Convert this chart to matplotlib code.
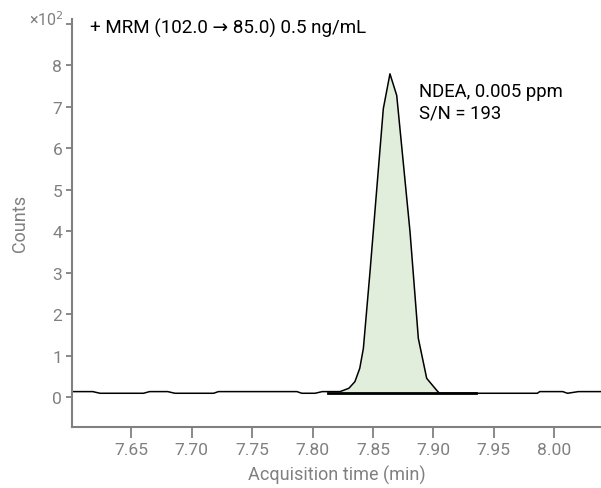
import matplotlib
matplotlib.use("Agg")
import matplotlib.pyplot as plt
import numpy as np

plt.rcParams['font.family'] = ['Roboto', 'DejaVu Sans']

# chromatogram trace (counts in units of 10^2)
time_min = [7.600, 7.618, 7.624, 7.660, 7.665, 7.680, 7.686, 7.718, 7.722, 7.787,
            7.791, 7.802, 7.808, 7.8227, 7.830, 7.835, 7.839, 7.842, 7.8475, 7.8585,
            7.864, 7.8696, 7.8806, 7.8875, 7.8944, 7.9027, 7.905, 7.986, 7.988, 8.007,
            8.011, 8.020, 8.039]
counts = [0.14, 0.14, 0.10, 0.10, 0.14, 0.14, 0.10, 0.10, 0.14, 0.14,
          0.10, 0.10, 0.14, 0.14, 0.22, 0.38, 0.70, 1.18, 3.03, 6.95,
          7.79, 7.27, 3.99, 1.42, 0.46, 0.17, 0.10, 0.10, 0.14, 0.14,
          0.10, 0.14, 0.14]

# integrated peak region and its baseline
peak_start, peak_end = 7.815, 7.905
baseline_x = [7.813, 7.935]
baseline_y = [0.11, 0.11]

x_ticks = [7.65, 7.70, 7.75, 7.80, 7.85, 7.90, 7.95, 8.00]
y_ticks = [0, 1, 2, 3, 4, 5, 6, 7, 8, 9]
y_labels = ['0', '1', '2', '3', '4', '5', '6', '7', '8', '']

grey = '#808080'

fig = plt.figure(figsize=(6.01, 4.89), dpi=100)
ax = fig.add_axes([72 / 601, 61.5 / 489, 529 / 601, 407.5 / 489])

t = np.array(time_min)
c = np.array(counts)
mask = (t >= peak_start) & (t <= peak_end)
ax.fill_between(t[mask], c[mask], 0.11, color='#e0eedb', lw=0)
ax.plot(time_min, counts, color='black', lw=1.1)
ax.plot(baseline_x, baseline_y, color='black', lw=2)

ax.set_xlim(7.6008, 8.0387)
ax.set_ylim(-0.70, 9.11)
ax.set_xticks(x_ticks)
ax.set_xticklabels([f'{v:.2f}' for v in x_ticks])
ax.set_yticks(y_ticks)
ax.set_yticklabels(y_labels)

for s in ['top', 'right']:
    ax.spines[s].set_visible(False)
for s in ['left', 'bottom']:
    ax.spines[s].set_color(grey)
    ax.spines[s].set_linewidth(1.5)
ax.tick_params(colors=grey, labelsize=12.6, width=1.3)
ax.tick_params(axis='x', length=8, pad=3.5)
ax.tick_params(axis='y', length=4.5, pad=2.5)

ax.set_xlabel('Acquisition time (min)', color=grey, fontsize=13, labelpad=5)
ax.set_ylabel('Counts', color=grey, fontsize=13, labelpad=17)

fig.text(64 / 601, 1 - 20 / 489, '×10$^2$', color=grey, fontsize=11.5, va='center', ha='right')
fig.text(90 / 601, 1 - 33.5 / 489, '+ MRM (102.0 → 85.0) 0.5 ng/mL', fontsize=13.5, va='baseline')
ax.text(7.888, 7.26, 'NDEA, 0.005 ppm', fontsize=13.3, va='baseline')
ax.text(7.888, 6.75, 'S/N = 193', fontsize=13.3, va='baseline')

fig.savefig('out.png', dpi=100)
